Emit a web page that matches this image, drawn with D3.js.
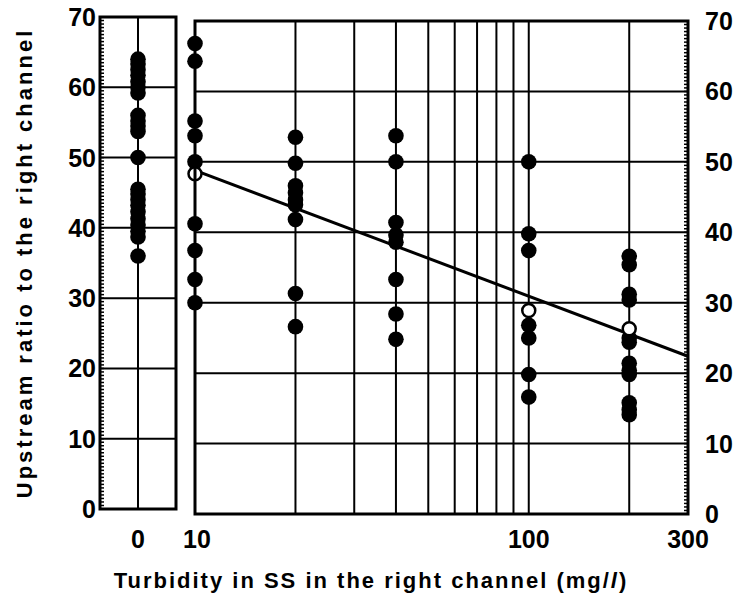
<!DOCTYPE html>
<html lang="en">
<head>
    <meta charset="UTF-8">
    <title>Upstream ratio vs turbidity</title>
    <style>
        body { margin: 0; background: #fff; }
        svg text { font-family: "Liberation Sans", Arial, sans-serif; font-weight: bold; fill: #000; }
    </style>
</head>
<body>
    <svg id="chart" width="739" height="599"></svg>
    <script src="https://d3js.org/d3.v7.min.js"></script>
    <script>
        // ratios
        const ratiosAt0 = [64, 63.3, 62.5, 61.7, 60.8, 60, 59.2, 56, 55.2, 54.5, 53.7, 50,
                           45.5, 44.8, 44, 43.2, 42.3, 41.3, 40.4, 39.5, 38.7, 36];
        const turbidityLevels = [10, 20, 40, 100, 200];
        const ratiosAt10 = [66.8, 64.3, 55.8, 53.7, 50, 41.2, 37.4, 33.3, 30];
        const ratiosAt20 = [53.5, 49.8, 46.6, 45.6, 44.6, 43.9, 41.8, 31.3, 26.6];
        const ratiosAt40 = [53.7, 50, 41.4, 39.6, 38.6, 33.3, 28.4, 24.8];
        const ratiosAt100 = [50, 39.8, 37.4, 26.8, 25, 19.8, 16.6];
        const ratiosAt200 = [36.6, 35.4, 31.2, 30.4, 25, 24.4, 21.4, 20.4, 19.8, 15.8, 14.8, 14.1];
        const meanTurbidity = [10, 100, 200];
        const meanRatios = [48.3, 28.9, 26.3];
        const lineTurbidity = [10, 300];
        const lineRatios = [48.8, 22.4];
        const yTicks = [0, 10, 20, 30, 40, 50, 60, 70];
        const xGrid = [20, 30, 40, 50, 60, 70, 80, 90, 100, 200];
        const xTickLabels = [10, 100, 300];

        const svg = d3.select("#chart");

        // left panel (turbidity 0) and main log panel
        const xZero = d3.scaleLinear().domain([-1, 1]).range([100, 176]);
        const yLeft = d3.scaleLinear().domain([0, 70]).range([509, 17]);
        const x = d3.scaleLog().domain([10, 300]).range([195, 688]);
        const y = d3.scaleLinear().domain([0, 70]).range([514, 21]);

        const grid = svg.append("g").attr("stroke", "#000").attr("stroke-width", 2);

        // gridlines left panel
        grid.selectAll(".hl").data(yTicks.slice(1, -1)).join("line")
            .attr("x1", xZero(-1)).attr("x2", xZero(1))
            .attr("y1", d => yLeft(d)).attr("y2", d => yLeft(d));
        grid.append("line")
            .attr("x1", xZero(0)).attr("x2", xZero(0))
            .attr("y1", yLeft(0)).attr("y2", yLeft(70));

        // gridlines main panel
        grid.selectAll(".hm").data(yTicks.slice(1, -1)).join("line")
            .attr("x1", x(10)).attr("x2", x(300))
            .attr("y1", d => y(d)).attr("y2", d => y(d));
        grid.selectAll(".vm").data(xGrid).join("line")
            .attr("x1", d => x(d)).attr("x2", d => x(d))
            .attr("y1", y(0)).attr("y2", y(70));

        // minor ticks, half a unit apart
        const minor = d3.range(0.5, 70, 0.5);
        grid.selectAll(".tl").data(minor).join("line")
            .attr("stroke-width", 1.5)
            .attr("x1", xZero(-1)).attr("x2", xZero(-1) + 4)
            .attr("y1", d => yLeft(d)).attr("y2", d => yLeft(d));
        grid.selectAll(".tr").data(minor).join("line")
            .attr("stroke-width", 1.5)
            .attr("x1", x(300)).attr("x2", x(300) - 4)
            .attr("y1", d => y(d)).attr("y2", d => y(d));

        // regression line
        svg.append("line")
            .attr("x1", x(lineTurbidity[0])).attr("y1", y(lineRatios[0]))
            .attr("x2", x(lineTurbidity[1])).attr("y2", y(lineRatios[1]))
            .attr("stroke", "#000").attr("stroke-width", 3);

        // filled dots
        svg.append("g").selectAll("circle").data(ratiosAt0).join("circle")
            .attr("cx", xZero(0)).attr("cy", d => yLeft(d)).attr("r", 7.8);

        const columns = [ratiosAt10, ratiosAt20, ratiosAt40, ratiosAt100, ratiosAt200];
        const points = columns.flatMap((vals, i) => vals.map(v => [turbidityLevels[i], v]));
        svg.append("g").selectAll("circle").data(points).join("circle")
            .attr("cx", d => x(d[0])).attr("cy", d => y(d[1])).attr("r", 7.8);

        // open circles (means)
        svg.append("g").selectAll("circle").data(meanTurbidity).join("circle")
            .attr("cx", d => x(d)).attr("cy", (d, i) => y(meanRatios[i])).attr("r", 6.5)
            .attr("fill", "#fff").attr("stroke", "#000").attr("stroke-width", 2.5);

        // frames
        svg.append("rect")
            .attr("x", xZero(-1)).attr("y", yLeft(70))
            .attr("width", xZero(1) - xZero(-1)).attr("height", yLeft(0) - yLeft(70))
            .attr("fill", "none").attr("stroke", "#000").attr("stroke-width", 3);
        svg.append("rect")
            .attr("x", x(10)).attr("y", y(70))
            .attr("width", x(300) - x(10)).attr("height", y(0) - y(70))
            .attr("fill", "none").attr("stroke", "#000").attr("stroke-width", 3);

        // y labels
        svg.append("g").selectAll("text").data(yTicks).join("text")
            .attr("x", 96).attr("y", d => yLeft(d) + 9)
            .attr("text-anchor", "end").attr("font-size", 25)
            .text(d => d);
        svg.append("g").selectAll("text").data(yTicks).join("text")
            .attr("x", 705).attr("y", d => y(d) + 9)
            .attr("font-size", 25)
            .text(d => d);

        // x labels
        svg.append("text")
            .attr("x", xZero(0)).attr("y", 548)
            .attr("text-anchor", "middle").attr("font-size", 25)
            .text("0");
        svg.append("g").selectAll("text").data(xTickLabels).join("text")
            .attr("x", d => x(d) + (d === 10 ? 2 : 0)).attr("y", 548)
            .attr("text-anchor", "middle").attr("font-size", 25)
            .text(d => d);

        // axis titles
        const xTitle = svg.append("text")
            .attr("x", 371).attr("y", 588)
            .attr("text-anchor", "middle").attr("font-size", 22)
            .attr("letter-spacing", 2)
            .text("Turbidity in SS in the right channel (mg/");
        xTitle.append("tspan").attr("font-style", "italic").text("l");
        xTitle.append("tspan").text(")");

        svg.append("text")
            .attr("transform", "translate(32,263) rotate(-90)")
            .attr("text-anchor", "middle").attr("font-size", 22)
            .attr("letter-spacing", 3)
            .text("Upstream ratio to the right channel");
    </script>
</body>
</html>
